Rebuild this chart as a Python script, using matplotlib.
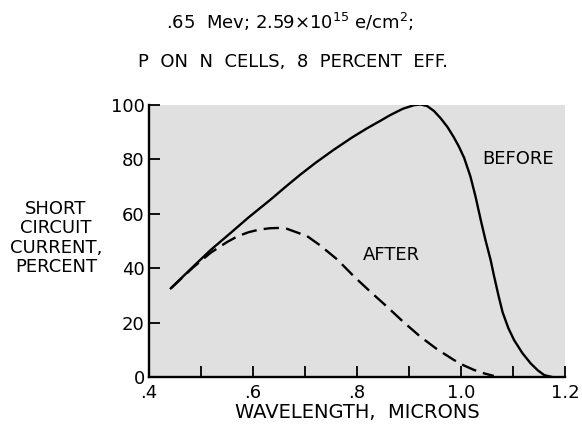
import numpy as np
import matplotlib
matplotlib.use('Agg')
import matplotlib.pyplot as plt

# values (wavelength in microns, current in percent)
before_x = [0.442, 0.485, 0.518, 0.559, 0.591, 0.633, 0.665, 0.691, 0.720,
            0.755, 0.790, 0.819, 0.845, 0.864, 0.888, 0.909, 0.922, 0.935,
            0.948, 0.961, 0.974, 0.986, 0.996, 1.006, 1.018, 1.028, 1.038,
            1.047, 1.057, 1.063, 1.072, 1.080, 1.091, 1.102, 1.118, 1.134,
            1.148, 1.160, 1.173]
before_y = [32.6, 40.6, 46.6, 53.3, 58.6, 65.1, 70.3, 74.4, 78.7,
            83.5, 88.0, 91.4, 94.2, 96.3, 98.6, 99.9, 100.2, 99.6,
            97.8, 95.1, 91.9, 88.2, 84.7, 80.6, 73.8, 66.3, 57.7,
            50.4, 43.0, 37.6, 30.0, 23.8, 18.0, 13.6, 8.8, 5.0,
            2.4, 0.7, 0.1]

after_x = [0.442, 0.485, 0.518, 0.550, 0.570, 0.591, 0.612, 0.633, 0.650,
           0.665, 0.704, 0.729, 0.762, 0.794, 0.826, 0.858, 0.890, 0.922,
           0.954, 0.986, 1.005, 1.025, 1.045, 1.063]
after_y = [32.6, 40.3, 45.6, 49.6, 51.7, 53.2, 54.2, 54.7, 54.8,
           54.5, 51.8, 48.4, 43.2, 37.0, 31.3, 25.8, 20.1, 14.8,
           10.2, 6.3, 4.3, 2.6, 1.3, 0.4]

x_ticks = [0.4, 0.5, 0.6, 0.7, 0.8, 0.9, 1.0, 1.1, 1.2]
x_labels = ['.4', '', '.6', '', '.8', '', '1.0', '', '1.2']
y_ticks = [0, 20, 40, 60, 80, 100]

fig = plt.figure(figsize=(5.82, 4.30), dpi=100)
ax = fig.add_axes([149 / 582, 1 - 377 / 430, 416 / 582, 272 / 430])
ax.set_facecolor('#e0e0e0')

ax.plot(before_x, before_y, color='black', lw=1.7, solid_joinstyle='round')
ax.plot(after_x, after_y, color='black', lw=1.7, dashes=(6.5, 3))

ax.set_xlim(0.4, 1.2)
ax.set_ylim(0, 100)
ax.set_xticks(x_ticks)
ax.set_xticklabels(x_labels)
ax.set_yticks(y_ticks)
ax.tick_params(direction='in', length=8, width=1.3, labelsize=13)
ax.tick_params(axis='x', pad=5)
ax.tick_params(axis='y', pad=3)

for s in ['top', 'right']:
    ax.spines[s].set_visible(False)
for s in ['left', 'bottom']:
    ax.spines[s].set_linewidth(1.7)

ax.text(1.109, 80, 'BEFORE', fontsize=13, ha='center', va='center')
ax.text(0.866, 45, 'AFTER', fontsize=13, ha='center', va='center')

ax.set_xlabel('WAVELENGTH,  MICRONS', fontsize=14, labelpad=1)

fig.text(56 / 582, 1 - 238 / 430, 'SHORT\nCIRCUIT\nCURRENT,\nPERCENT',
         fontsize=13, ha='center', va='center', linespacing=1.1)

fig.text(290 / 582, 1 - 22 / 430,
         r'.65  Mev; 2.59$\times$10$^{15}$ e/cm$^{2}$;',
         fontsize=13, ha='center', va='center')
fig.text(293 / 582, 1 - 62 / 430, 'P  ON  N  CELLS,  8  PERCENT  EFF.',
         fontsize=13, ha='center', va='center')

plt.savefig('out.png', dpi=100)
